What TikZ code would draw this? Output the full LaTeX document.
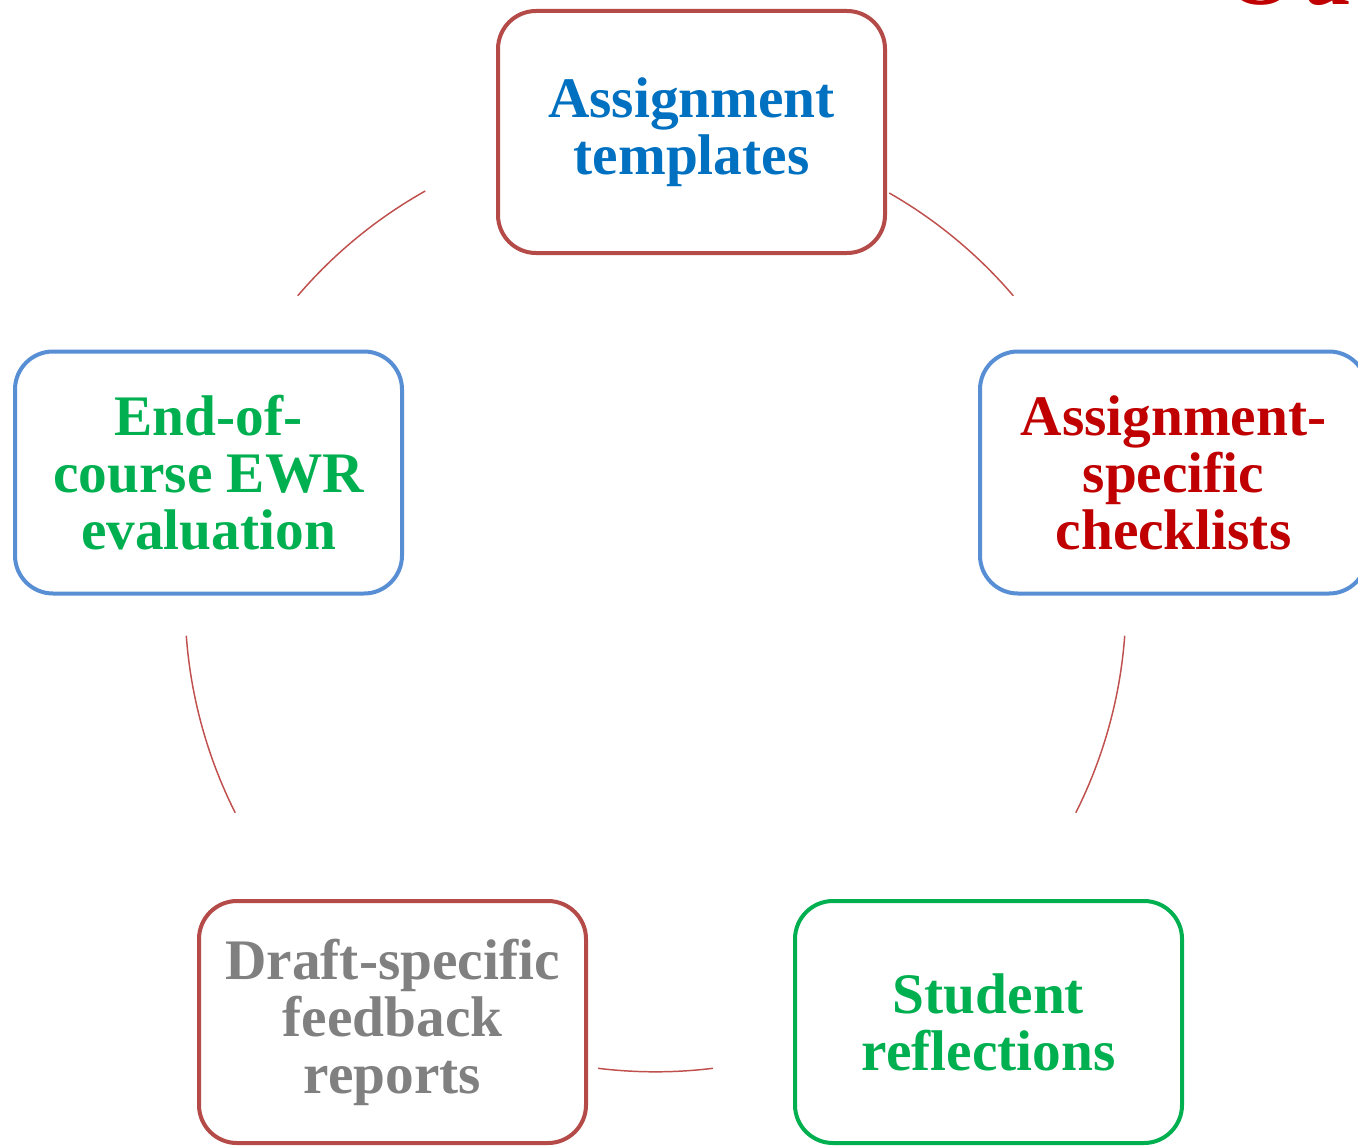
\documentclass[tikz,border=0pt]{standalone}
\usepackage{fontspec}
\setmainfont{Liberation Serif}
\usetikzlibrary{calc}
\definecolor{boxred}{RGB}{180,75,72}
\definecolor{boxblue}{RGB}{88,143,212}
\definecolor{boxgreen}{RGB}{0,176,80}
\definecolor{txtblue}{RGB}{0,112,192}
\definecolor{txtred}{RGB}{192,0,0}
\definecolor{txtgreen}{RGB}{0,176,80}
\definecolor{txtgray}{RGB}{128,128,128}
\definecolor{arcred}{RGB}{192,80,77}
\begin{document}
\begin{tikzpicture}[x=0.75pt,y=-0.75pt,
  cyclebox/.style={draw, line width=3pt, rounded corners=28.5pt, fill=white,
    minimum width=290.25pt, minimum height=181.5pt, inner sep=0pt, align=center,
    font=\fontsize{43}{42.75}\selectfont\bfseries},
  cyclearc/.style={draw=arcred, line width=1.1pt}]
\clip (0,0) rectangle (1358,1145);
\useasboundingbox (0,0) rectangle (1358,1145);
\fill[white] (0,0) rectangle (1358,1145);

\node[anchor=base west, text=txtred, font=\fontsize{66}{66}\selectfont\bfseries, inner sep=0pt] (title) at (1226,5) {O\kern6pt u};

\coordinate (O) at (655.5,601.3);
\coordinate (a1s) at ($(O)+(-119.3:470.5)$);
\coordinate (a2s) at ($(O)+(-60.2:470.5)$);
\coordinate (a3s) at ($(O)+(4.2:470.5)$);
\coordinate (a4s) at ($(O)+(83.0:470.5)$);
\coordinate (a5s) at ($(O)+(153.3:470.5)$);
\draw[cyclearc] (a1s) arc[start angle=-119.3, end angle=-139.5, radius=470.5];
\draw[cyclearc] (a2s) arc[start angle=-60.2, end angle=-40.5, radius=470.5];
\draw[cyclearc] (a3s) arc[start angle=4.2, end angle=26.7, radius=470.5];
\draw[cyclearc] (a4s) arc[start angle=83.0, end angle=97.0, radius=470.5];
\draw[cyclearc] (a5s) arc[start angle=153.3, end angle=175.8, radius=470.5];

\node[cyclebox, draw=boxred, text=txtblue] (tpl) at (691.5,132) {Assignment\\templates};
\node[cyclebox, draw=boxblue, text=txtred] (chk) at (1173.5,472.5) {Assignment-\\specific\\checklists};
\node[cyclebox, draw=boxgreen, text=txtgreen] (refl) at (988.5,1022) {Student\\reflections};
\node[cyclebox, draw=boxred, text=txtgray] (fb) at (392.5,1022) {Draft-specific\\feedback\\reports};
\node[cyclebox, draw=boxblue, text=txtgreen] (ewr) at (208.5,472.5) {End-of-\\course EWR\\evaluation};
\end{tikzpicture}
\end{document}
